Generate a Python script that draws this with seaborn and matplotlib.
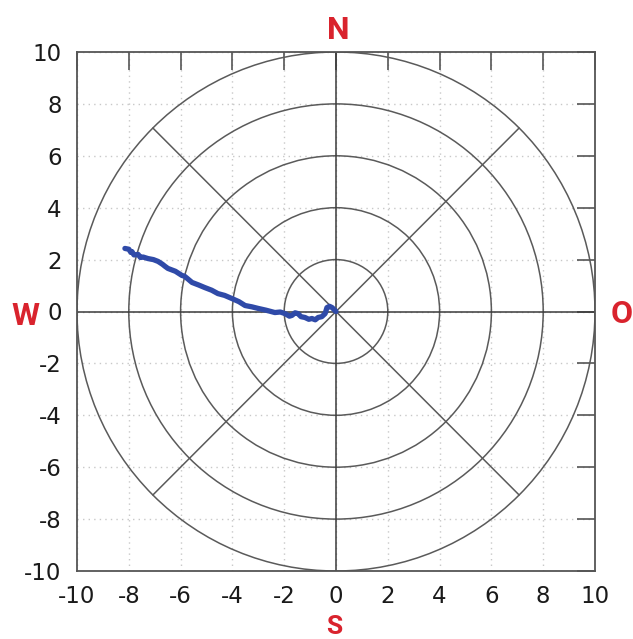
import numpy as np
import pandas as pd
import matplotlib
matplotlib.use("Agg")
import matplotlib.pyplot as plt
from matplotlib.patches import Circle
import seaborn as sns

# trajectory
track_x = [-8.15, -8.00, -7.92, -7.88, -7.80, -7.64, -7.55, -7.45, -7.26, -7.05, -6.87, -6.70,
           -6.60, -6.49, -6.20, -5.95, -5.85, -5.75, -5.56, -5.30, -5.06, -4.80, -4.56, -4.30,
           -4.02, -3.75, -3.51, -3.25, -3.01, -2.70, -2.36, -2.15, -1.97, -1.80, -1.70, -1.58,
           -1.47, -1.35, -1.20, -1.05, -0.93, -0.80, -0.69, -0.55, -0.42, -0.38, -0.35, -0.25,
           -0.15, -0.05, 0.0]
track_y = [2.43, 2.40, 2.28, 2.31, 2.18, 2.20, 2.08, 2.10, 2.04, 2.00, 1.93, 1.82,
           1.74, 1.66, 1.55, 1.39, 1.36, 1.28, 1.12, 1.02, 0.92, 0.82, 0.69, 0.62,
           0.50, 0.38, 0.23, 0.18, 0.12, 0.05, -0.04, -0.02, -0.08, -0.18, -0.15, -0.05,
           -0.08, -0.20, -0.23, -0.30, -0.27, -0.32, -0.23, -0.20, -0.08, 0.05, 0.15, 0.20,
           0.15, 0.05, 0.0]

ticks = [-10, -8, -6, -4, -2, 0, 2, 4, 6, 8, 10]
tick_labels = [str(t) for t in ticks]
radii = [2, 4, 6, 8, 10]
compass = {"N": (338, 39), "W": (25, 325), "O": (622, 323)}

sns.set_style("white")
plt.rcParams['font.family'] = ['DejaVu Sans']

W, H = 633, 639
fig = plt.figure(figsize=(W / 100, H / 100), dpi=100)
ax = fig.add_axes([77 / W, 1 - 571 / H, (595 - 77) / W, (571 - 52) / H])
ax.set_xlim(-10, 10)
ax.set_ylim(-10, 10)

# dotted grid
for t in ticks:
    ax.axvline(t, color="#c8c8c8", lw=1.0, ls=(0, (1, 3)), zorder=0)
    ax.axhline(t, color="#c8c8c8", lw=1.0, ls=(0, (1, 3)), zorder=0)

# circles
for r in radii:
    ax.add_patch(Circle((0, 0), r, fill=False, ec="#5a5a5a", lw=1.1, zorder=1))

# axes and diagonals
ax.axhline(0, color="#3a3a3a", lw=1.1, zorder=1)
ax.axvline(0, color="#3a3a3a", lw=1.1, zorder=1)
d = 10 / np.sqrt(2)
ax.plot([-d, d], [-d, d], color="#5a5a5a", lw=1.1, zorder=1)
ax.plot([-d, d], [d, -d], color="#5a5a5a", lw=1.1, zorder=1)

df = pd.DataFrame({"x": track_x, "y": track_y})
sns.lineplot(data=df, x="x", y="y", sort=False, color="#2f4aa8", lw=3.8, ax=ax, zorder=3)

ax.set_xticks(ticks)
ax.set_yticks(ticks)
ax.set_xticklabels(tick_labels)
ax.set_yticklabels(tick_labels)
ax.set_xlabel("")
ax.set_ylabel("")
ax.tick_params(direction="in", length=13, width=1.2, color="#555555",
               top=True, right=True, labelsize=16.5, labelcolor="#1a1a1a")
ax.tick_params(axis="x", pad=10)
ax.tick_params(axis="y", pad=11)
for s in ax.spines.values():
    s.set_color("#555555")
    s.set_linewidth(1.3)
    s.set_visible(True)

fam = ["Liberation Sans Narrow", "Roboto", "DejaVu Sans"]
for lab, (px, py) in compass.items():
    fig.text(px / W, 1 - py / H, lab, color="#d9232d", fontsize=23, fontweight="bold",
             ha="center", va="baseline", fontstretch="condensed", family=fam)
fig.text(334 / W, 0.0, "S", color="#d9232d", fontsize=19, fontweight="bold",
         ha="center", va="bottom", fontstretch="condensed", family=fam)

fig.savefig("out.png", dpi=100)
